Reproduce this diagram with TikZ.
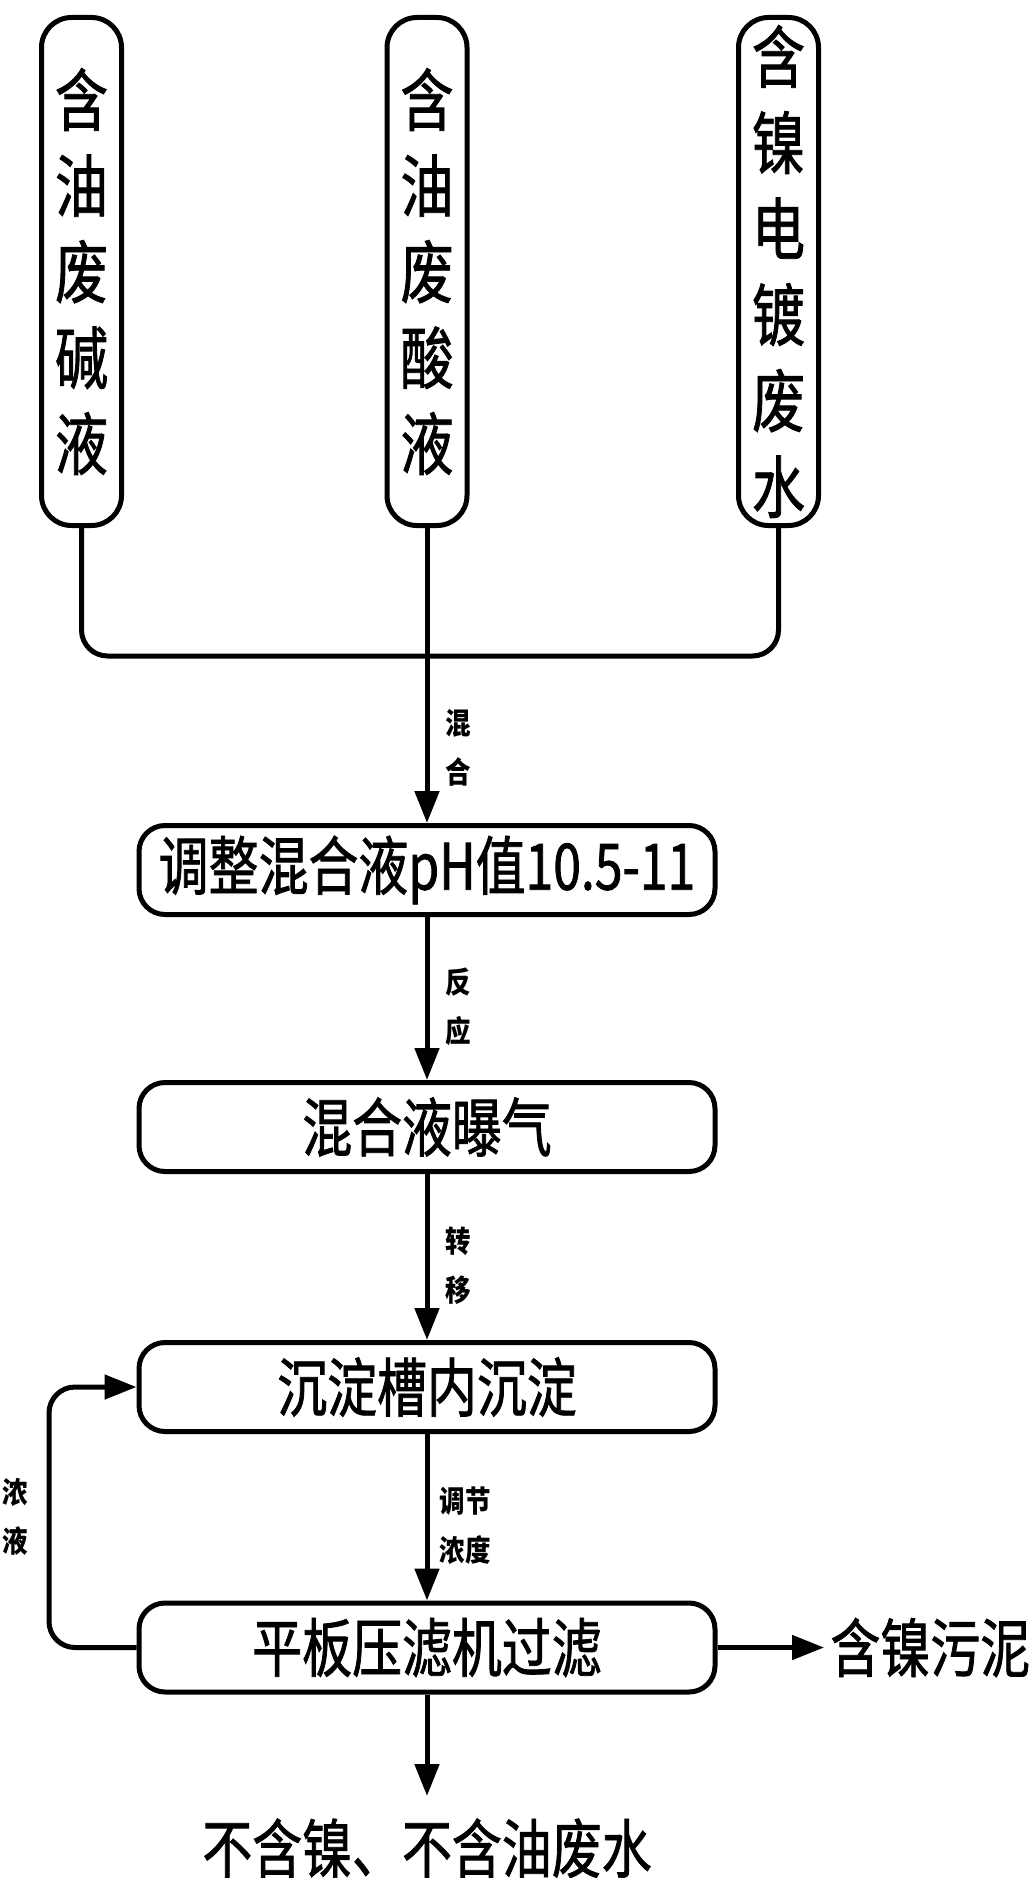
\documentclass[tikz,border=0pt]{standalone}
\usepackage{fontspec}
\newfontfamily\cjk[FakeStretch=0.78,FakeBold=1.2]{Noto Sans CJK SC}
\newfontfamily\cjklbl[FakeStretch=0.85]{Noto Sans CJK SC}
\usetikzlibrary{arrows.meta}

\begin{document}
\begin{tikzpicture}[x=0.5pt, y=-0.5pt, line width=2.5pt,
    >={Triangle[length=16pt,width=12pt]},
    src/.style={draw, rounded corners=15pt, minimum width=40pt, minimum height=254pt, inner sep=0pt, align=center, font=\cjk\fontsize{34}{43}\selectfont},
    proc/.style={draw, rounded corners=13pt, minimum width=288pt, minimum height=44.5pt, inner sep=0pt, font=\cjk\fontsize{32}{38}\selectfont},
    lbl/.style={inner sep=0pt, align=center, font=\cjklbl\bfseries\fontsize{15}{24.5}\selectfont},
    txt/.style={inner sep=2pt, font=\cjk\fontsize{32}{38}\selectfont}]
    \useasboundingbox (0,0) rectangle (1028,1878);

    % 三种废液
    \node[src] (alkali) at (81.5,271.5) {含\\油\\废\\碱\\液};
    \node[src] (acid) at (427,271.5) {含\\油\\废\\酸\\液};
    \node[src] (nickel) at (778.5,271.5) {含\\镍\\电\\镀\\废\\水};

    % 处理步骤
    \node[proc] (adjust) at (427,870) {调整混合液pH值10.5-11};
    \node[proc] (aerate) at (427,1127) {混合液曝气};
    \node[proc] (settle) at (427,1387) {沉淀槽内沉淀};
    \node[proc] (press) at (427,1647.5) {平板压滤机过滤};

    % 产物
    \node[txt, anchor=west] (sludge) at (824,1647.5) {含镍污泥};
    \node[txt, inner ysep=10pt, anchor=north] (water) at (427,1796) {不含镍、不含油废水};

    % 混合
    \coordinate (join) at (427,656);
    \draw[rounded corners=13pt] (alkali.south) |- (join) -| (nickel.south);
    \draw (acid.south) -- (join);
    \draw[->] (join) -- (adjust.north) node[lbl, pos=0.55, right=8pt] (mix) {混\\合};

    \draw[->] (adjust.south) -- (aerate.north) node[lbl, pos=0.55, right=8pt] (react) {反\\应};
    \draw[->] (aerate.south) -- (settle.north) node[lbl, pos=0.55, right=8pt] (move) {转\\移};
    \draw[->] (settle.south) -- (press.north) node[lbl, pos=0.55, right=5pt] (conc) {调节\\浓度};

    % 浓液回流
    \coordinate (loop) at (49,1517);
    \draw[->, rounded corners=13pt] (press.west) -| (loop) |- (settle.west);
    \node[lbl, left=9pt] (back) at (loop) {浓\\液};

    \draw[->] (press.east) -- (sludge.west);
    \draw[->] (press.south) -- (water.north);
  \end{tikzpicture}
\end{document}
